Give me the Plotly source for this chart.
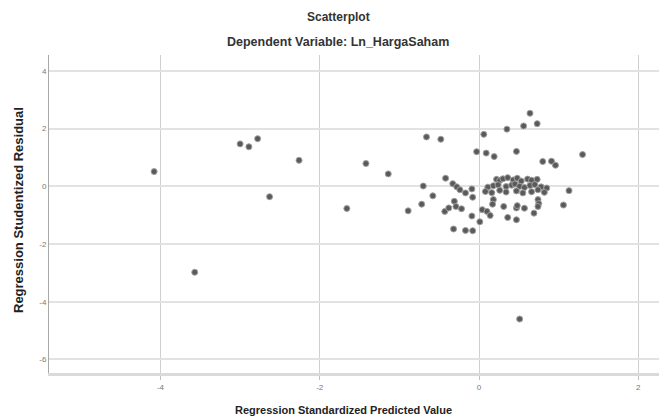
import plotly.graph_objects as go

# Regression Standardized Predicted Value (x) and Studentized Residual (y)
pred_x = [
    -4.08, -3.57, -3.00, -2.89, -2.78, -2.63, -2.26, -1.66, -1.42, -1.14,
    -0.70, -0.66, -0.72, -0.89, -0.58, -0.42, -0.48,
    0.64, 0.73, 0.56, 0.35, 0.06, -0.03, 0.09, 0.19, 0.47, 1.30, 0.80, 0.91, 0.96,
    -0.33, -0.28, -0.24, -0.17, -0.09, -0.08,
    -0.43, -0.38, -0.31, -0.29, -0.22, -0.09, 0.01, -0.32, -0.17, -0.08,
    0.04, 0.10, 0.14, 0.31, 0.36, 0.47, 0.47, 0.48, 0.57, 0.69,
    0.74, 0.75, 0.74, 1.06, 1.13, 0.51,
    0.22, 0.26, 0.30, 0.36, 0.43, 0.48, 0.53, 0.61, 0.66, 0.73,
    0.11, 0.18, 0.24, 0.34, 0.41, 0.45, 0.51, 0.57, 0.64, 0.70, 0.78, 0.85,
    0.08, 0.16, 0.26, 0.34, 0.47, 0.55, 0.66, 0.74, 0.82,
    0.18, 0.17,
]
resid_y = [
    0.51, -2.98, 1.47, 1.37, 1.65, -0.36, 0.90, -0.77, 0.79, 0.43,
    0.01, 1.71, -0.62, -0.85, -0.33, 0.28, 1.63,
    2.53, 2.17, 2.09, 1.98, 1.80, 1.20, 1.15, 1.03, 1.21, 1.10, 0.86, 0.87, 0.73,
    0.09, -0.02, -0.12, -0.23, -0.09, -0.38,
    -0.87, -0.75, -0.52, -0.70, -0.78, -1.03, -1.23, -1.48, -1.53, -1.54,
    -0.81, -0.87, -1.01, -0.70, -1.08, -1.16, -0.75, -0.67, -0.76, -0.93,
    -0.46, -0.60, -0.70, -0.65, -0.15, -4.60,
    0.24, 0.20, 0.26, 0.30, 0.22, 0.28, 0.18, 0.25, 0.21, 0.24,
    -0.03, 0.02, 0.05, -0.01, 0.04, 0.08, 0.00, -0.04, 0.03, 0.06, -0.02, -0.06,
    -0.18, -0.22, -0.14, -0.20, -0.16, -0.23, -0.19, -0.12, -0.21,
    -0.46, -0.62,
]

x_ticks = [-4, -2, 0, 2]
y_ticks = [4, 2, 0, -2, -4, -6]

L, T, W, H = 49, 55, 610, 318  # plot area in pixels

fig = go.Figure()
fig.add_trace(go.Scatter(
    x=pred_x, y=resid_y, mode="markers",
    marker=dict(size=6, color="#5a5a5a", line=dict(width=1, color="#a0a0a0")),
    showlegend=False, hoverinfo="x+y",
))

fig.update_layout(
    width=659, height=419,
    margin=dict(l=L, r=659 - L - W, t=T, b=419 - T - H),
    paper_bgcolor="white", plot_bgcolor="white",
    font=dict(family="Liberation Sans, Arial, sans-serif", color="#222"),
)

cx = (338 - L) / W
fig.add_annotation(text="<b>Scatterplot</b>", xref="paper", yref="paper",
                   x=cx, y=1 + (T - 17) / H, showarrow=False, yanchor="middle",
                   font=dict(size=12, color="#333"))
fig.add_annotation(text="<b>Dependent Variable: Ln_HargaSaham</b>", xref="paper", yref="paper",
                   x=cx, y=1 + (T - 42) / H, showarrow=False, yanchor="middle",
                   font=dict(size=12.5, color="#333"))
fig.add_annotation(text="<b>Regression Standardized Predicted Value</b>", xref="paper", yref="paper",
                   x=(343 - L) / W, y=-(410 - T - H) / H, showarrow=False, yanchor="middle",
                   font=dict(size=11, color="#222"))
fig.add_annotation(text="<b>Regression Studentized Residual</b>", xref="paper", yref="paper",
                   x=-(L - 18) / W, y=(T + H - 210) / H, showarrow=False, textangle=-90,
                   xanchor="center", yanchor="middle",
                   font=dict(size=13, color="#222"))

fig.update_xaxes(
    range=[-5.40, 2.26], tickvals=x_ticks, ticktext=[str(v) for v in x_ticks],
    showgrid=True, gridcolor="#cfcfcf", gridwidth=1, zeroline=False,
    showline=True, linecolor="#dadada", linewidth=3,
    ticks="outside", ticklen=4, tickcolor="#c0c0c0",
    tickfont=dict(size=8, color="#777"), automargin=False,
)
fig.update_yaxes(
    range=[-6.47, 4.55], tickvals=y_ticks, ticktext=[str(v) for v in y_ticks],
    showgrid=True, gridcolor="#e2e2e2", gridwidth=2, zeroline=False,
    showline=True, linecolor="#a8a8a8", linewidth=1,
    ticks="", tickfont=dict(size=8, color="#777"), automargin=False,
)

fig.write_html("out.html", config={"displayModeBar": False},
               post_script="document.body.style.margin='0';document.body.style.overflow='hidden';")
